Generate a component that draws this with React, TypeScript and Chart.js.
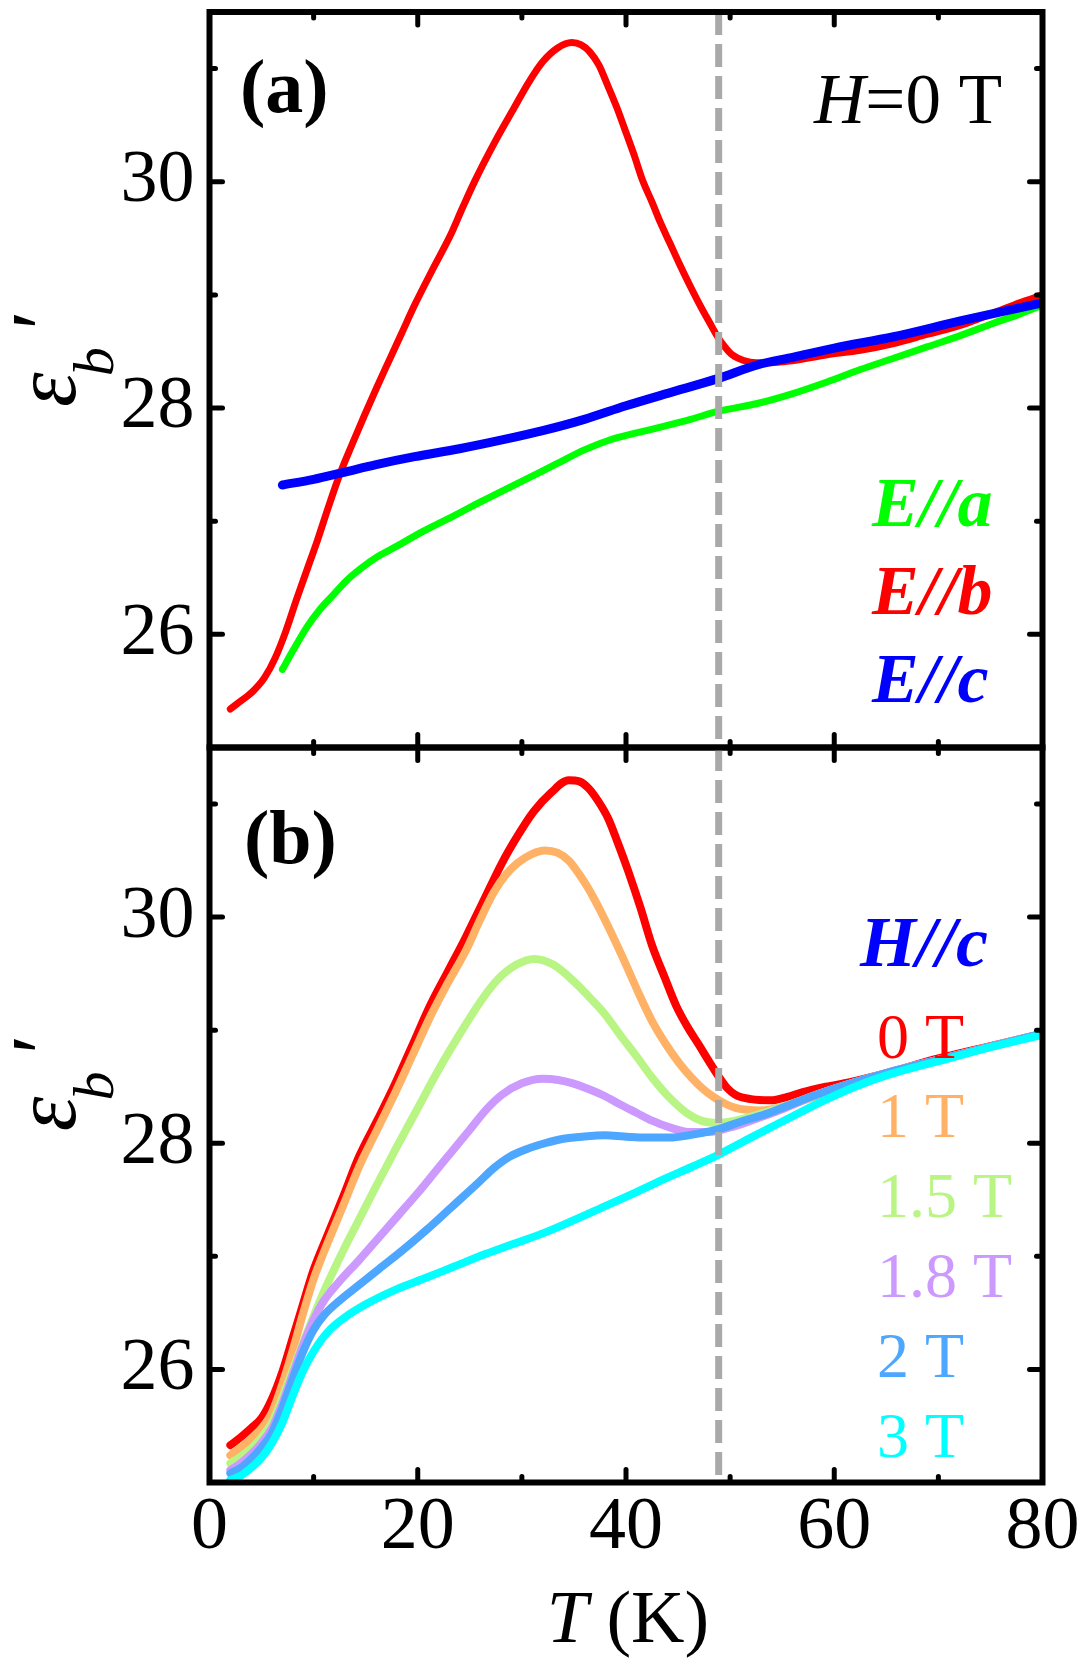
import React, { useEffect, useRef } from 'react';
import { Chart, registerables } from 'chart.js';

Chart.register(...registerables);

const FONT = '"Liberation Serif", "Times New Roman", Times, serif';

// ---------- axes ----------
const X_MIN = 0;
const X_MAX = 80;
const Y_MIN = 25;
const Y_MAX = 31.5;
const X_MAJOR = [0, 20, 40, 60, 80];
const X_MINOR = [10, 30, 50, 70];
const Y_MAJOR = [26, 28, 30];
const Y_MINOR = [27, 29, 31];
const T_DASH = 48.9;

// ---------- panel (a): H = 0 T ----------
const A_RED_T = [2, 3, 4.2, 5.3, 6.3, 7.3, 8.4, 9.4, 10.4, 11.4, 12.5, 13.7, 14.9, 16.1, 17.3, 18.5, 19.7, 21.4, 23.1, 24.3, 25.5, 27.4, 29.3, 30.6, 32.0, 33.4, 34.8, 35.7, 36.5, 37.4, 38.2, 39.1, 39.9, 40.8, 41.6, 42.5, 43.3, 44.2, 45.1, 46.1, 47.1, 48.0, 48.8, 49.5, 50.2, 51.3, 52.5, 53.5, 56.1, 59.3, 62.5, 65.7, 68.9, 72.1, 75.3, 77.8, 80];
const A_RED = [25.34, 25.41, 25.50, 25.62, 25.79, 26.02, 26.32, 26.58, 26.84, 27.12, 27.41, 27.68, 27.94, 28.19, 28.43, 28.67, 28.91, 29.22, 29.52, 29.77, 30.01, 30.35, 30.66, 30.87, 31.06, 31.18, 31.23, 31.21, 31.15, 31.03, 30.86, 30.66, 30.46, 30.23, 30.01, 29.82, 29.64, 29.46, 29.28, 29.09, 28.91, 28.76, 28.63, 28.54, 28.47, 28.42, 28.40, 28.40, 28.42, 28.47, 28.51, 28.57, 28.65, 28.73, 28.84, 28.93, 29.0];

const A_GREEN_T = [7, 8.1, 9.4, 10.6, 11.8, 13.1, 14.5, 16.2, 18, 20.5, 23.1, 25.6, 28.2, 30.8, 33.4, 36, 38.5, 41, 43.7, 46.2, 48.8, 52.6, 56.1, 59.3, 62.5, 65.7, 68.9, 72.1, 75.3, 77.8, 80];
const A_GREEN = [25.69, 25.87, 26.07, 26.22, 26.34, 26.47, 26.58, 26.69, 26.78, 26.91, 27.03, 27.15, 27.27, 27.39, 27.51, 27.63, 27.72, 27.78, 27.84, 27.90, 27.97, 28.04, 28.13, 28.23, 28.34, 28.44, 28.54, 28.64, 28.75, 28.83, 28.91];

const A_BLUE_T = [7, 10, 12.8, 16, 19.7, 24, 28.2, 32, 36, 40, 44, 48.8, 52.6, 56.1, 60, 65.7, 72.1, 76, 80];
const A_BLUE = [27.32, 27.37, 27.43, 27.50, 27.57, 27.64, 27.72, 27.80, 27.90, 28.02, 28.13, 28.26, 28.38, 28.45, 28.53, 28.63, 28.77, 28.85, 28.93];

// ---------- panel (b): H // c ----------
const B_RED_T = [2, 3, 4, 5, 6, 7, 8, 8.7, 10, 11.35, 12.8, 14.4, 16.1, 17.8, 19.5, 21.2, 22.9, 24.6, 26.4, 28.1, 29.6, 31.1, 32.8, 34.5, 35.5, 36.4, 37.3, 38.3, 39.2, 40.2, 41.4, 42.5, 43.7, 44.8, 45.9, 47.0, 48.0, 48.9, 49.7, 50.5, 52.0, 53.9, 55.5, 56.9, 59.2, 61.5, 65, 70, 75, 80];
const B_RED = [25.33, 25.40, 25.48, 25.57, 25.74, 25.98, 26.28, 26.49, 26.88, 27.19, 27.52, 27.89, 28.20, 28.52, 28.87, 29.22, 29.52, 29.82, 30.16, 30.48, 30.72, 30.93, 31.10, 31.21, 31.20, 31.14, 31.03, 30.87, 30.66, 30.41, 30.08, 29.75, 29.47, 29.22, 29.03, 28.87, 28.72, 28.59, 28.49, 28.43, 28.39, 28.38, 28.41, 28.45, 28.50, 28.54, 28.62, 28.75, 28.86, 28.97];

const B_ORANGE_T = [2, 3, 4, 5, 6, 7, 8, 9, 10, 11.35, 12.8, 14.4, 16.1, 17.8, 19.5, 21.2, 22.9, 24.6, 26, 27.3, 28.5, 29.6, 31, 32.2, 33.4, 34.5, 35.5, 36.4, 37.9, 39.8, 41.2, 42.5, 43.8, 45.1, 46.3, 47.4, 48.4, 49.3, 50.6, 52.9, 55.4, 58.6, 65, 71.4, 80];
const B_ORANGE = [25.24, 25.31, 25.39, 25.48, 25.62, 25.87, 26.17, 26.50, 26.80, 27.12, 27.44, 27.80, 28.12, 28.44, 28.78, 29.12, 29.42, 29.70, 29.98, 30.22, 30.38, 30.48, 30.56, 30.59, 30.57, 30.50, 30.38, 30.25, 29.99, 29.62, 29.33, 29.08, 28.88, 28.71, 28.58, 28.48, 28.41, 28.36, 28.31, 28.29, 28.33, 28.43, 28.62, 28.77, 28.97];

const B_GREEN_T = [2, 3, 4, 5, 6, 7, 8, 9, 10, 11, 12, 13, 14, 15, 16, 18, 20, 22, 24, 26, 27.7, 29.5, 31.2, 33, 34.9, 36.4, 37.9, 39.5, 41, 42.6, 44, 45.8, 47.2, 48.7, 50.5, 52.2, 55, 58.6, 65, 71.4, 80];
const B_GREEN = [25.17, 25.23, 25.30, 25.40, 25.53, 25.75, 26.00, 26.24, 26.47, 26.69, 26.89, 27.08, 27.26, 27.44, 27.62, 27.97, 28.31, 28.65, 28.96, 29.25, 29.45, 29.58, 29.63, 29.58, 29.44, 29.30, 29.15, 28.95, 28.77, 28.57, 28.42, 28.27, 28.20, 28.18, 28.20, 28.24, 28.32, 28.44, 28.62, 28.77, 28.97];

const B_PURPLE_T = [2, 3, 4, 5, 6, 7, 8, 9, 10, 11, 12.5, 14.4, 16.3, 18.2, 20, 21.6, 23.3, 25, 26.6, 28.1, 30, 32, 33.5, 34.9, 36.4, 37.9, 39.5, 41, 42.5, 44.2, 46, 48, 50, 52, 55, 58.6, 65, 71.4, 80];
const B_PURPLE = [25.11, 25.17, 25.25, 25.35, 25.48, 25.70, 25.96, 26.22, 26.44, 26.61, 26.78, 26.97, 27.17, 27.37, 27.56, 27.74, 27.93, 28.12, 28.30, 28.43, 28.53, 28.57, 28.56, 28.53, 28.48, 28.42, 28.34, 28.27, 28.20, 28.14, 28.10, 28.10, 28.14, 28.20, 28.30, 28.44, 28.62, 28.77, 28.97];

const B_BLUE_T = [2, 3, 4, 5, 6, 7, 8, 9, 10, 11, 12.5, 14.4, 16.3, 18.5, 20.8, 23.3, 25.8, 27.3, 28.8, 30.5, 32.2, 34, 36, 38, 39.8, 42, 44.2, 46, 48.7, 51, 53.8, 56, 58.6, 65, 71.4, 80];
const B_BLUE = [25.08, 25.13, 25.21, 25.31, 25.44, 25.66, 25.92, 26.16, 26.35, 26.48, 26.61, 26.75, 26.89, 27.05, 27.23, 27.44, 27.65, 27.78, 27.88, 27.95, 28.00, 28.04, 28.06, 28.07, 28.06, 28.05, 28.05, 28.07, 28.12, 28.19, 28.27, 28.35, 28.44, 28.62, 28.77, 28.97];

const B_CYAN_T = [2, 3, 4, 5, 6, 7, 8, 9, 10, 11.35, 13, 15.1, 18, 20.8, 23.5, 26.5, 29.5, 32.2, 35, 37.9, 40.8, 43.6, 46.3, 48.9, 52, 55.4, 58.6, 62, 65, 71.4, 75, 80];
const B_CYAN = [25.02, 25.06, 25.13, 25.22, 25.35, 25.53, 25.77, 25.99, 26.16, 26.33, 26.46, 26.58, 26.71, 26.81, 26.91, 27.02, 27.12, 27.21, 27.32, 27.44, 27.56, 27.68, 27.79, 27.90, 28.05, 28.21, 28.36, 28.50, 28.60, 28.76, 28.85, 28.96];

// legend labels
const A_LEGEND = ['E//a', 'E//b', 'E//c'];
const B_FIELDS = ['0 T', '1 T', '1.5 T', '1.8 T', '2 T', '3 T'];

// ---------- layout (page pixels) ----------
const PAGE_W = 1083;
const PAGE_H = 1661;
const PLOT_LEFT = 209.5;
const PLOT_RIGHT = 1042.5;
const A_CANVAS_TOP = -60;
const A_CANVAS_H = 880;
const B_CANVAS_TOP = 640;
const B_CANVAS_H = 1021;
const PANEL_A_TOP = 12;
const PANEL_MID = 747.5;
const PANEL_B_BOTTOM = 1482.5;
const DASH_PERIOD = 32;

const COLORS = {
  red: '#FF0000',
  green: '#00FF00',
  blue: '#0000FF',
  orange: '#FFB266',
  lgreen: '#B8F584',
  purple: '#CC99FF',
  sky: '#4DA6FF',
  cyan: '#00FFFF',
};

const pts = (t: number[], v: number[]) => t.map((x, i) => ({ x, y: v[i] }));

const line = (label: string, t: number[], v: number[], color: string, width: number, order: number) => ({
  label,
  data: pts(t, v),
  borderColor: color,
  backgroundColor: color,
  borderWidth: width,
  pointRadius: 0,
  fill: false,
  cubicInterpolationMode: 'monotone',
  borderCapStyle: 'round',
  borderJoinStyle: 'round',
  order,
});

type Seg = { t: string; f: string };

function drawSegs(ctx: CanvasRenderingContext2D, segs: Seg[], x: number, y: number, align: 'left' | 'right' | 'center', color: string) {
  ctx.save();
  ctx.fillStyle = color;
  ctx.textBaseline = 'alphabetic';
  ctx.textAlign = 'left';
  let total = 0;
  const widths = segs.map((s) => {
    ctx.font = s.f;
    const w = ctx.measureText(s.t).width;
    total += w;
    return w;
  });
  let cx = align === 'left' ? x : align === 'right' ? x - total : x - total / 2;
  segs.forEach((s, i) => {
    ctx.font = s.f;
    ctx.fillText(s.t, cx, y);
    cx += widths[i];
  });
  ctx.restore();
}

function drawYLabel(ctx: CanvasRenderingContext2D, startY: number) {
  ctx.save();
  ctx.translate(0, startY);
  ctx.rotate(-Math.PI / 2);
  ctx.fillStyle = '#000';
  ctx.textBaseline = 'alphabetic';
  ctx.textAlign = 'left';
  ctx.font = `italic 88px ${FONT}`;
  ctx.fillText('\u03B5', -2, 75);
  const w = ctx.measureText('\u03B5').width;
  ctx.font = `italic 58px ${FONT}`;
  ctx.fillText('b', w - 6, 113);
  ctx.font = `italic 88px ${FONT}`;
  ctx.fillText('\u2032', 70, 72);
  ctx.restore();
}

function makeDecor(panel: 'a' | 'b', canvasTop: number) {
  return {
    id: 'decor_' + panel,
    afterDatasetsDraw(chart: any) {
      const ctx: CanvasRenderingContext2D = chart.ctx;
      const ca = chart.chartArea;
      const xs = chart.scales.x;
      const ys = chart.scales.y;
      const oy = canvasTop;

      // dashed vertical line
      ctx.save();
      ctx.beginPath();
      ctx.rect(ca.left, ca.top, ca.right - ca.left, ca.bottom - ca.top);
      ctx.clip();
      const xd = xs.getPixelForValue(T_DASH);
      ctx.strokeStyle = '#A9A9A9';
      ctx.lineWidth = 7;
      ctx.setLineDash([23, 9]);
      ctx.lineDashOffset = (ca.top + oy - PANEL_A_TOP) % DASH_PERIOD;
      ctx.beginPath();
      ctx.moveTo(xd, ca.top);
      ctx.lineTo(xd, ca.bottom);
      ctx.stroke();
      ctx.restore();

      // frame
      ctx.save();
      ctx.strokeStyle = '#000';
      ctx.lineWidth = 6;
      ctx.strokeRect(ca.left, ca.top, ca.right - ca.left, ca.bottom - ca.top);

      // ticks (inward, all four sides)
      ctx.lineWidth = 5;
      ctx.lineCap = 'round';
      const seg = (x1: number, y1: number, x2: number, y2: number) => {
        ctx.beginPath();
        ctx.moveTo(x1, y1);
        ctx.lineTo(x2, y2);
        ctx.stroke();
      };
      const xt = X_MAJOR.map((v) => [v, 13]).concat(X_MINOR.map((v) => [v, 6]));
      xt.forEach(([v, len]) => {
        const px = xs.getPixelForValue(v);
        if (px <= ca.left + 2 || px >= ca.right - 2) return;
        seg(px, ca.top, px, ca.top + len);
        seg(px, ca.bottom, px, ca.bottom - len);
      });
      const yt = Y_MAJOR.map((v) => [v, 13]).concat(Y_MINOR.map((v) => [v, 6]));
      yt.forEach(([v, len]) => {
        const py = ys.getPixelForValue(v);
        if (py <= ca.top + 2 || py >= ca.bottom - 2) return;
        seg(ca.left, py, ca.left + len, py);
        seg(ca.right, py, ca.right - len, py);
      });
      ctx.restore();

      // texts
      if (panel === 'a') {
        drawSegs(ctx, [{ t: '(a)', f: `bold 76px ${FONT}` }], 240, 112 - oy, 'left', '#000');
        drawSegs(ctx, [
          { t: 'H', f: `italic 71px ${FONT}` },
          { t: '=0 T', f: `71px ${FONT}` },
        ], 1002, 123 - oy, 'right', '#000');
        const cols = [COLORS.green, COLORS.red, COLORS.blue];
        const bases = [526, 614, 702];
        A_LEGEND.forEach((s, i) => {
          drawSegs(ctx, [{ t: s, f: `bold italic 70px ${FONT}` }], 872, bases[i] - oy, 'left', cols[i]);
        });
        drawYLabel(ctx, ys.getPixelForValue(28) - 3);
      } else {
        drawSegs(ctx, [{ t: '(b)', f: `bold 76px ${FONT}` }], 244, 863 - oy, 'left', '#000');
        drawSegs(ctx, [{ t: 'H//c', f: `bold italic 72px ${FONT}` }], 860, 966 - oy, 'left', COLORS.blue);
        const cols = [COLORS.red, COLORS.orange, COLORS.lgreen, COLORS.purple, COLORS.sky, COLORS.cyan];
        const bases = [1058, 1137, 1217, 1297, 1377, 1457];
        B_FIELDS.forEach((s, i) => {
          drawSegs(ctx, [{ t: s, f: `64px ${FONT}` }], 877, bases[i] - oy, 'left', cols[i]);
        });
        drawYLabel(ctx, ys.getPixelForValue(28) - 14);
        drawSegs(ctx, [
          { t: 'T', f: `italic 74px ${FONT}` },
          { t: ' (K)', f: `74px ${FONT}` },
        ], (PLOT_LEFT + PLOT_RIGHT) / 2 + 2, 1642 - oy, 'center', '#000');
      }
    },
  };
}

function makeConfig(panel: 'a' | 'b', datasets: any[]) {
  const isB = panel === 'b';
  const canvasTop = isB ? B_CANVAS_TOP : A_CANVAS_TOP;
  const canvasH = isB ? B_CANVAS_H : A_CANVAS_H;
  const areaTop = (isB ? PANEL_MID : PANEL_A_TOP) - canvasTop;
  const areaBottom = (isB ? PANEL_B_BOTTOM : PANEL_MID) - canvasTop;
  const xHeight = isB ? canvasH - areaBottom : 0;
  return {
    type: 'line',
    data: { datasets },
    options: {
      responsive: false,
      maintainAspectRatio: false,
      animation: false,
      devicePixelRatio: 1,
      events: [],
      layout: {
        padding: {
          left: 0,
          right: PAGE_W - PLOT_RIGHT,
          top: areaTop,
          bottom: isB ? 0 : canvasH - areaBottom,
        },
      },
      plugins: { legend: { display: false }, tooltip: { enabled: false }, title: { display: false } },
      scales: {
        x: {
          type: 'linear',
          min: X_MIN,
          max: X_MAX,
          display: isB,
          grid: { display: false, drawTicks: false },
          border: { display: false },
          ticks: {
            font: { family: FONT, size: 74 },
            color: '#000',
            padding: 2,
            maxRotation: 0,
            autoSkip: false,
          },
          afterBuildTicks: (s: any) => {
            s.ticks = X_MAJOR.map((v) => ({ value: v }));
          },
          afterFit: (s: any) => {
            if (isB) s.height = xHeight;
            s.paddingLeft = 0;
            s.paddingRight = 0;
          },
        },
        y: {
          type: 'linear',
          min: Y_MIN,
          max: Y_MAX,
          grid: { display: false, drawTicks: false },
          border: { display: false },
          ticks: {
            font: { family: FONT, size: 74 },
            color: '#000',
            padding: 15,
            autoSkip: false,
          },
          afterBuildTicks: (s: any) => {
            s.ticks = Y_MAJOR.map((v) => ({ value: v }));
          },
          afterFit: (s: any) => {
            s.width = PLOT_LEFT;
            s.paddingTop = 0;
            s.paddingBottom = 0;
          },
        },
      },
    },
    plugins: [makeDecor(panel, canvasTop)],
  };
}

const PRELOAD_STYLES: React.CSSProperties[] = [
  { fontStyle: 'normal', fontWeight: 400 },
  { fontStyle: 'italic', fontWeight: 400 },
  { fontStyle: 'normal', fontWeight: 700 },
  { fontStyle: 'italic', fontWeight: 700 },
];

export default function App() {
  const refA = useRef<HTMLCanvasElement>(null);
  const refB = useRef<HTMLCanvasElement>(null);

  useEffect(() => {
    let alive = true;
    const dsA = [
      line('E//a', A_GREEN_T, A_GREEN, COLORS.green, 7, 3),
      line('E//b', A_RED_T, A_RED, COLORS.red, 7, 2),
      line('E//c', A_BLUE_T, A_BLUE, COLORS.blue, 9, 1),
    ];
    const dsB = [
      line('0 T', B_RED_T, B_RED, COLORS.red, 8, 6),
      line('1 T', B_ORANGE_T, B_ORANGE, COLORS.orange, 8, 5),
      line('1.5 T', B_GREEN_T, B_GREEN, COLORS.lgreen, 8, 4),
      line('1.8 T', B_PURPLE_T, B_PURPLE, COLORS.purple, 8, 3),
      line('2 T', B_BLUE_T, B_BLUE, COLORS.sky, 8, 2),
      line('3 T', B_CYAN_T, B_CYAN, COLORS.cyan, 8, 1),
    ];
    const a = new Chart(refA.current as HTMLCanvasElement, makeConfig('a', dsA) as any);
    const b = new Chart(refB.current as HTMLCanvasElement, makeConfig('b', dsB) as any);
    const redraw = () => {
      if (alive) {
        a.update();
        b.update();
      }
    };
    const fonts: any = (document as any).fonts;
    if (fonts) {
      const fam = '"Liberation Serif"';
      Promise.all([
        fonts.load(`74px ${fam}`, 'ε30'),
        fonts.load(`italic 74px ${fam}`, 'εbT'),
        fonts.load(`bold 74px ${fam}`, '(a)'),
        fonts.load(`bold italic 74px ${fam}`, 'E//a'),
      ])
        .catch(() => null)
        .then(redraw);
      if (fonts.ready) fonts.ready.then(redraw);
    }
    const t1 = setTimeout(redraw, 50);
    const t2 = setTimeout(redraw, 300);
    return () => {
      alive = false;
      clearTimeout(t1);
      clearTimeout(t2);
      a.destroy();
      b.destroy();
    };
  }, []);

  return (
    <div
      style={{
        position: 'absolute',
        left: 0,
        top: 0,
        width: PAGE_W,
        height: PAGE_H,
        overflow: 'hidden',
        background: '#fff',
      }}
    >
      {PRELOAD_STYLES.map((st, i) => (
        <span
          key={i}
          aria-hidden="true"
          style={{
            ...st,
            position: 'absolute',
            left: 0,
            top: 0,
            fontFamily: FONT,
            fontSize: 20,
            color: 'rgba(255,255,255,0)',
            pointerEvents: 'none',
          }}
        >
          εb′ 0123456789 (a) E//a H T K
        </span>
      ))}
      <canvas
        ref={refA}
        width={PAGE_W}
        height={A_CANVAS_H}
        style={{ position: 'absolute', left: 0, top: A_CANVAS_TOP, width: PAGE_W, height: A_CANVAS_H }}
      />
      <canvas
        ref={refB}
        width={PAGE_W}
        height={B_CANVAS_H}
        style={{ position: 'absolute', left: 0, top: B_CANVAS_TOP, width: PAGE_W, height: B_CANVAS_H }}
      />
    </div>
  );
}
